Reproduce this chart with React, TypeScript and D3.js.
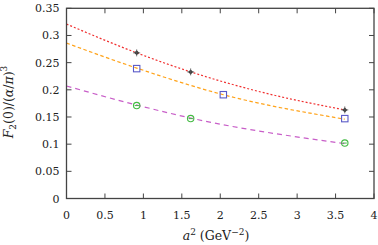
import React from "react";
import * as d3 from "d3";

// measured points (a^2 in GeV^-2)
const diamondX = [0.913, 1.615, 3.62];
const diamondY = [0.268, 0.233, 0.163];
const squareX = [0.913, 2.04, 3.62];
const squareY = [0.239, 0.191, 0.147];
const circleX = [0.913, 1.615, 3.62];
const circleY = [0.171, 0.147, 0.102];

// fit curves
const fitRedX = [0, 0.913, 1.615, 2.5, 3.62];
const fitRedY = [0.321, 0.268, 0.233, 0.197, 0.163];
const fitOrangeX = [0, 0.913, 2.04, 3.62];
const fitOrangeY = [0.286, 0.240, 0.191, 0.146];
const fitMagentaX = [0, 0.913, 1.615, 3.62];
const fitMagentaY = [0.207, 0.172, 0.148, 0.101];

const xTicks = [0, 0.5, 1, 1.5, 2, 2.5, 3, 3.5, 4];
const yTicks = [0, 0.05, 0.1, 0.15, 0.2, 0.25, 0.3, 0.35];

const W = 378;
const H = 245;
const m = { left: 66.5, right: 4, top: 8.3, bottom: 46.5 };

export default function App() {
  const x = d3.scaleLinear().domain([0, 4]).range([m.left, W - m.right]);
  const y = d3.scaleLinear().domain([0, 0.35]).range([H - m.bottom, m.top]);
  const line = d3
    .line<[number, number]>()
    .x((d) => x(d[0]))
    .y((d) => y(d[1]))
    .curve(d3.curveMonotoneX);
  const zip = (a: number[], b: number[]) => a.map((v, i) => [v, b[i]] as [number, number]);
  const font = "DejaVu Serif";
  const axisCol = "#444";
  const fs = 11;
  const lfs = 12.5;

  return (
    <svg width={W} height={H} style={{ position: "absolute", left: 0, top: 0, background: "#fff" }} fontFamily={font}>
      {/* fits */}
      <path d={line(zip(fitRedX, fitRedY)) || ""} fill="none" stroke="#f03030" strokeWidth={1.2} strokeDasharray="2,2" />
      <path d={line(zip(fitOrangeX, fitOrangeY)) || ""} fill="none" stroke="#ffa31a" strokeWidth={1.2} strokeDasharray="3.5,2.5" />
      <path d={line(zip(fitMagentaX, fitMagentaY)) || ""} fill="none" stroke="#c85ec8" strokeWidth={1.2} strokeDasharray="5,4" />

      {/* squares */}
      {squareX.map((v, i) => (
        <rect key={"s" + i} x={x(v) - 3.2} y={y(squareY[i]) - 3.2} width={6.4} height={6.4} fill="none" stroke="#5a5ac8" strokeWidth={1.1} />
      ))}
      {/* circles */}
      {circleX.map((v, i) => (
        <g key={"c" + i}>
          <circle cx={x(v)} cy={y(circleY[i])} r={3.2} fill="none" stroke="#44bb44" strokeWidth={1.1} />
          <line x1={x(v) - 2} x2={x(v) + 2} y1={y(circleY[i])} y2={y(circleY[i])} stroke="#44bb44" strokeWidth={1} />
        </g>
      ))}
      {/* diamonds */}
      {diamondX.map((v, i) => {
        const cx = x(v);
        const cy = y(diamondY[i]);
        return (
          <g key={"d" + i}>
            <path d={`M${cx},${cy - 2.5}L${cx + 2.5},${cy}L${cx},${cy + 2.5}L${cx - 2.5},${cy}Z`} fill="#333" />
            <line x1={cx - 3.5} x2={cx + 3.5} y1={cy} y2={cy} stroke="#555" strokeWidth={0.8} />
            <line x1={cx} x2={cx} y1={cy - 3.5} y2={cy + 3.5} stroke="#555" strokeWidth={0.8} />
          </g>
        );
      })}

      {/* frame & ticks */}
      <rect x={m.left} y={m.top} width={W - m.right - m.left} height={H - m.bottom - m.top} fill="none" stroke={axisCol} strokeWidth={1.3} />
      {xTicks.map((t) => (
        <g key={"xt" + t}>
          <line x1={x(t)} x2={x(t)} y1={y(0)} y2={y(0) - 5} stroke={axisCol} strokeWidth={1} />
          <line x1={x(t)} x2={x(t)} y1={y(0.35)} y2={y(0.35) + 5} stroke={axisCol} strokeWidth={1} />
          <text x={x(t)} y={y(0) + 20.5} textAnchor="middle" fontSize={fs} fill="#222">{t}</text>
        </g>
      ))}
      {yTicks.map((t) => (
        <g key={"yt" + t}>
          <line x1={x(0)} x2={x(0) + 5} y1={y(t)} y2={y(t)} stroke={axisCol} strokeWidth={1} />
          <line x1={x(4)} x2={x(4) - 5} y1={y(t)} y2={y(t)} stroke={axisCol} strokeWidth={1} />
          <text x={x(0) - 7} y={y(t) + 4} textAnchor="end" fontSize={fs} fill="#222">{t}</text>
        </g>
      ))}

      {/* axis labels */}
      <text x={216} y={240} textAnchor="middle" fontSize={lfs} fill="#222">
        <tspan fontStyle="italic">a</tspan>
        <tspan dy={-5} fontSize={9}>2</tspan>
        <tspan dy={5}> (GeV</tspan>
        <tspan dy={-5} fontSize={9}>−2</tspan>
        <tspan dy={5}>)</tspan>
      </text>
      <text transform="translate(13,102) rotate(-90)" textAnchor="middle" fontSize={lfs} fill="#222">
        <tspan fontStyle="italic">F</tspan>
        <tspan dy={3} fontSize={9}>2</tspan>
        <tspan dy={-3}>(0)/(</tspan>
        <tspan fontStyle="italic">α</tspan>
        <tspan>/</tspan>
        <tspan fontStyle="italic">π</tspan>
        <tspan>)</tspan>
        <tspan dy={-6} fontSize={9}>3</tspan>
      </text>
    </svg>
  );
}
